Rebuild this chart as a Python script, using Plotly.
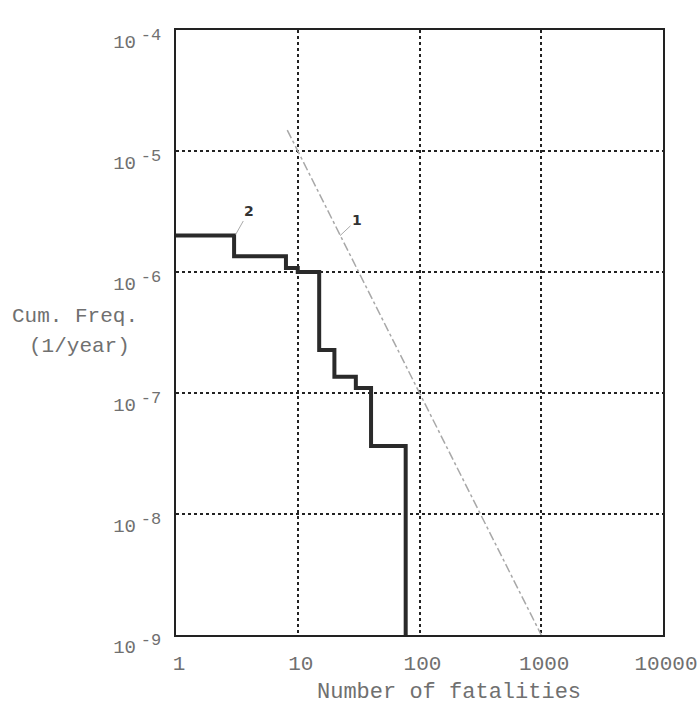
import plotly.graph_objects as go

# Data
step_n = [1, 3, 8, 10, 15, 20, 30, 40, 77]
step_f = [2.0e-6, 1.35e-6, 1.08e-6, 1.0e-6, 2.27e-7, 1.36e-7, 1.1e-7, 3.65e-8, 1e-9]

crit_n = [8.2, 1000]
crit_f = [1.49e-5, 1e-9]

x_ticks = [1, 10, 100, 1000, 10000]
x_ticktext = ["1", "10", "100", "1000", "10000"]
y_ticks = [1e-9, 1e-8, 1e-7, 1e-6, 1e-5, 1e-4]
y_exps = ["-9", "-8", "-7", "-6", "-5", "-4"]
y_ticktext = ["10<span style='font-size:8px'> </span>"
              "<sup><span style='font-size:17px'>%s</span></sup>" % e for e in y_exps]

FONT = "Liberation Mono"
TXT = "#707070"

# plot area in pixels (for placing the titles)
L, R, T, B = 176, 663, 30, 635
W, H = R - L, B - T


def px(x):
    return (x - L) / W


def py(y):
    return (B - y) / H


fig = go.Figure()
fig.add_trace(go.Scatter(x=crit_n, y=crit_f, mode="lines",
                         line=dict(color="#a8a8a8", width=1.5, dash="dashdot"),
                         showlegend=False, hoverinfo="skip"))
fig.add_trace(go.Scatter(x=step_n, y=step_f, mode="lines", line_shape="hv",
                         line=dict(color="#2a2a2a", width=4),
                         showlegend=False, hoverinfo="skip"))

# curve labels with leader lines
fig.add_annotation(x=0.49, y=-5.69, xref="x", yref="y", text="<b>2</b>", showarrow=True,
                   ax=13, ay=-23, arrowhead=0, arrowcolor="#aaaaaa", arrowwidth=1, standoff=0,
                   font=dict(family="DejaVu Sans", size=14, color="#333333"))
fig.add_annotation(x=1.347, y=-5.70, xref="x", yref="y", text="<b>1</b>", showarrow=True,
                   ax=17, ay=-16, arrowhead=0, arrowcolor="#aaaaaa", arrowwidth=1, standoff=0,
                   font=dict(family="DejaVu Sans", size=14, color="#333333"))

# y axis title (two lines)
fig.add_annotation(x=px(10), y=py(316), xref="paper", yref="paper",
                   xanchor="left", yanchor="middle", text="Cum. Freq.", showarrow=False,
                   font=dict(family=FONT, size=21, color=TXT))
fig.add_annotation(x=px(27), y=py(347), xref="paper", yref="paper",
                   xanchor="left", yanchor="middle", text="(1/year)", showarrow=False,
                   font=dict(family=FONT, size=21, color=TXT))
# x axis title
fig.add_annotation(x=px(449), y=py(692), xref="paper", yref="paper",
                   xanchor="center", yanchor="middle", text="Number of fatalities",
                   showarrow=False, font=dict(family=FONT, size=22, color=TXT))

axis_common = dict(type="log", showline=True, linecolor="#222222", linewidth=2, mirror=True,
                   showgrid=True, gridcolor="#222222", gridwidth=1.5, griddash="dot",
                   zeroline=False, ticks="", automargin=False, ticklabeloverflow="allow")

fig.update_xaxes(range=[0, 4], tickvals=x_ticks, ticktext=x_ticktext, ticklabelstandoff=8,
                 ticklabelshift=3, tickfont=dict(family=FONT, size=21, color=TXT), **axis_common)
fig.update_yaxes(range=[-9, -4], tickvals=y_ticks, ticktext=y_ticktext, ticklabelstandoff=9,
                 ticklabelshift=11, tickfont=dict(family=FONT, size=19, color=TXT),
                 **axis_common)

fig.update_layout(width=699, height=704, margin=dict(l=L, r=699 - R, t=T, b=704 - B),
                  paper_bgcolor="white", plot_bgcolor="white")

fig.write_html("out.html")
